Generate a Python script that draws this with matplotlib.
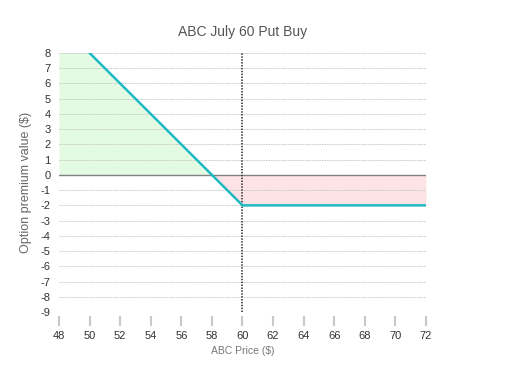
import numpy as np
import matplotlib.pyplot as plt

plt.rcParams['axes.unicode_minus'] = False
plt.rcParams['font.family'] = ['Liberation Sans', 'DejaVu Sans']

# payoff of a long put, strike 60, premium 2
price = [48, 50, 58, 60, 72]
payoff = [10, 8, 0, -2, -2]
x_ticks = list(range(48, 73, 2))
y_ticks = list(range(-9, 9))
strike = 60

fig = plt.figure(figsize=(5.25, 3.73), dpi=100)
ax = fig.add_axes([0.1124, 0.1635, 0.699, 0.6944])

px = np.array(price, dtype=float)
py = np.array(payoff, dtype=float)

# fills: gain (green) and loss (red)
ax.fill_between(px, py, 0, where=py >= 0, interpolate=True, color='#e3fbe3', lw=0)
ax.fill_between(px, py, 0, where=py <= 0, interpolate=True, color='#fde3e5', lw=0)

for y in y_ticks:
    if y != 0:
        ax.axhline(y, color='#c8c8c8', lw=0.7, ls=(0, (1.5, 1)), zorder=1)
ax.axhline(0, color='#808080', lw=1, zorder=2)
ax.axvline(strike, color='#444444', lw=1.3, ls=(0, (0.8, 0.8)), zorder=2)

ax.plot(px, py, color='#1fb8c3', lw=1.8, zorder=3)

ax.set_xlim(48, 72)
ax.set_ylim(-9, 8)
ax.set_xticks(x_ticks)
ax.set_yticks(y_ticks)
ax.tick_params(axis='x', length=7, width=1.5, color='#c8c8c8', labelsize=8,
               labelcolor='#333333', pad=4)
ax.tick_params(axis='y', length=0, labelsize=8, labelcolor='#333333', pad=6)
for s in ax.spines.values():
    s.set_visible(False)
ax.spines['bottom'].set_position(('outward', 3))

ax.set_title('ABC July 60 Put Buy', fontsize=10, color='#555555', pad=12)
ax.set_ylabel('Option premium value ($)', fontsize=9, color='#666666', labelpad=6)
ax.set_xlabel('ABC Price ($)', fontsize=7.5, color='#777777', labelpad=3)

plt.savefig('out.png', dpi=100)
